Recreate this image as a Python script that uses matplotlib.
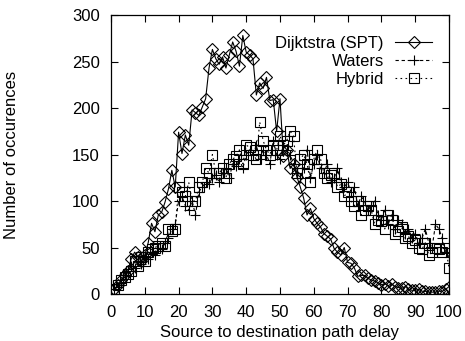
import matplotlib
matplotlib.use("Agg")
import matplotlib.pyplot as plt
import numpy as np

plt.rcParams['font.family'] = ['Liberation Sans', 'DejaVu Sans']

delay = list(range(1, 101))

dijkstra = [5, 10, 15, 20, 25, 38, 45, 40, 35, 42,
            55, 76, 67, 85, 88, 99, 113, 133, 115, 174,
            151, 171, 160, 198, 195, 192, 201, 210, 243, 263,
            253, 247, 255, 243, 257, 271, 261, 245, 278, 260,
            257, 253, 214, 227, 221, 233, 208, 209, 175, 210,
            148, 155, 135, 140, 126, 115, 103, 85, 92, 81,
            76, 72, 65, 62, 59, 49, 45, 42, 50, 34,
            33, 28, 19, 20, 20, 17, 15, 14, 12, 10,
            11, 9, 11, 8, 7, 6, 8, 5, 4, 4,
            5, 3, 3, 2, 2, 2, 3, 3, 5, 8]

waters = [5, 8, 12, 20, 25, 30, 28, 35, 32, 40,
          38, 45, 42, 50, 48, 55, 60, 70, 75, 100,
          105, 95, 90, 100, 85, 110, 115, 120, 118, 125,
          128, 120, 130, 135, 125, 140, 138, 145, 135, 150,
          155, 150, 160, 145, 155, 150, 140, 165, 150, 145,
          160, 155, 150, 140, 130, 125, 135, 155, 125, 140,
          150, 135, 130, 140, 120, 125, 135, 120, 115, 120,
          110, 115, 95, 105, 100, 90, 95, 100, 85, 80,
          90, 75, 85, 70, 80, 75, 65, 70, 60, 65,
          55, 60, 70, 55, 50, 75, 70, 60, 45, 40]

hybrid = [5, 10, 15, 18, 22, 25, 35, 30, 40, 35,
          45, 48, 50, 52, 55, 52, 70, 68, 70, 115,
          110, 105, 120, 100, 100, 115, 120, 135, 130, 150,
          130, 130, 135, 125, 140, 145, 148, 155, 140, 160,
          158, 150, 145, 185, 165, 155, 150, 160, 155, 170,
          160, 165, 175, 170, 130, 145, 150, 140, 120, 145,
          155, 145, 130, 125, 128, 130, 115, 118, 105, 110,
          100, 95, 100, 85, 90, 95, 90, 75, 80, 78,
          70, 85, 80, 65, 68, 72, 60, 62, 55, 58,
          50, 48, 55, 42, 45, 50, 48, 45, 50, 28]

xticks = list(range(0, 101, 10))
yticks = list(range(0, 301, 50))

fig = plt.figure(figsize=(4.65, 3.41), dpi=100)
ax = fig.add_axes([0.2387, 0.1378, 0.7269, 0.8182])

ax.plot(delay, dijkstra, color='black', linestyle='-', linewidth=0.8,
        marker='D', markersize=6, markerfacecolor='none',
        markeredgecolor='black', markeredgewidth=0.8, label='Dijktstra (SPT)')
ax.plot(delay, waters, color='black', linestyle=(0, (3, 2.5)), linewidth=0.8,
        marker='+', markersize=7, markeredgewidth=0.8, label='Waters')
ax.plot(delay, hybrid, color='black', linestyle=(0, (1.5, 3)), linewidth=0.8,
        marker='s', markersize=6.5, markerfacecolor='none',
        markeredgecolor='black', markeredgewidth=0.8, label='Hybrid')

ax.set_xlim(0, 100)
ax.set_ylim(0, 300)
ax.set_xticks(xticks)
ax.set_yticks(yticks)
ax.tick_params(direction='in', top=True, right=True, length=5, width=0.8,
               labelsize=12, pad=8, colors='black')
for s in ax.spines.values():
    s.set_linewidth(0.9)

ax.set_xlabel('Source to destination path delay', fontsize=12, labelpad=3.5)
ax.set_ylabel('Number of occurences', fontsize=12, labelpad=38)

leg = ax.legend(loc='upper right', bbox_to_anchor=(0.950, 0.925),
                frameon=False, markerfirst=False,
                numpoints=1, fontsize=12, handlelength=2.2,
                handletextpad=0.7, labelspacing=0.17, borderpad=0,
                borderaxespad=0)

fig.savefig('out.png', dpi=100)
